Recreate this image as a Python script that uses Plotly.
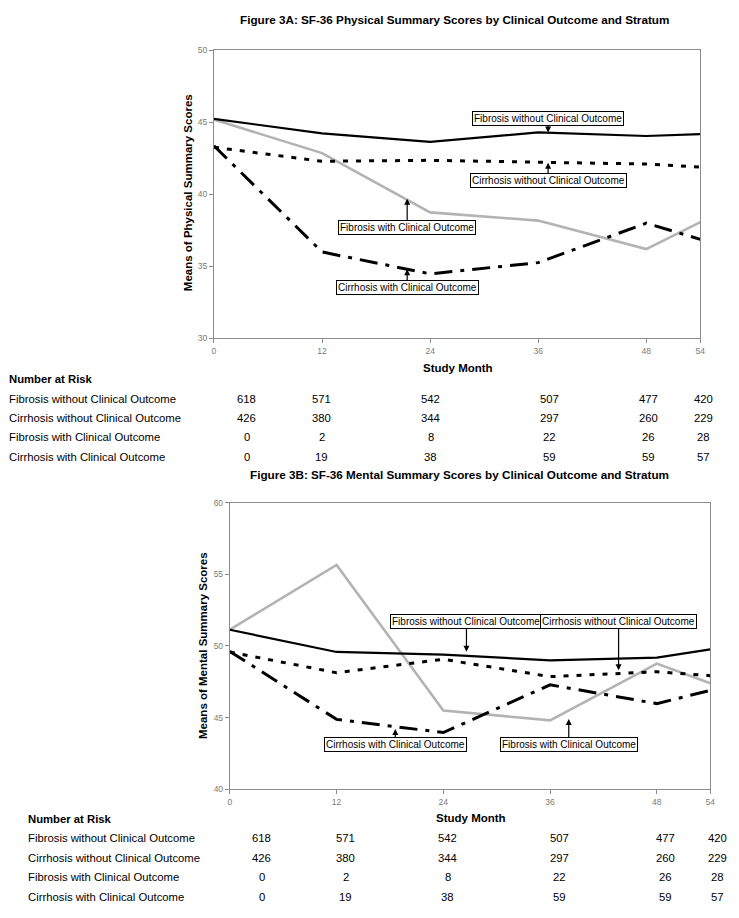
import plotly.graph_objects as go

# ---------------- data ----------------
months = [0, 12, 24, 36, 48, 54]
tick_labels = ["0", "12", "24", "36", "48", "54"]

series_names = [
    "Fibrosis without Clinical Outcome",
    "Cirrhosis without Clinical Outcome",
    "Fibrosis with Clinical Outcome",
    "Cirrhosis with Clinical Outcome",
]

phys_fib_without = [45.25, 44.24, 43.65, 44.31, 44.06, 44.19]
phys_cir_without = [43.28, 42.30, 42.37, 42.23, 42.11, 41.90]
phys_fib_with = [45.20, 42.87, 38.75, 38.18, 36.20, 38.07]
phys_cir_with = [43.37, 36.00, 34.48, 35.26, 38.00, 36.88]

ment_fib_without = [51.13, 49.58, 49.39, 49.00, 49.19, 49.76]
ment_cir_without = [49.58, 48.13, 49.07, 47.86, 48.20, 47.93]
ment_fib_with = [51.13, 55.65, 45.50, 44.81, 48.77, 47.40]
ment_cir_with = [49.62, 44.88, 43.96, 47.29, 45.98, 46.90]

n_fib_without = [618, 571, 542, 507, 477, 420]
n_cir_without = [426, 380, 344, 297, 260, 229]
n_fib_with = [0, 2, 8, 22, 26, 28]
n_cir_with = [0, 19, 38, 59, 59, 57]

title_a = "Figure 3A: SF-36 Physical Summary Scores by Clinical Outcome and Stratum"
title_b = "Figure 3B: SF-36 Mental Summary Scores by Clinical Outcome and Stratum"

# ---------------- layout helpers ----------------
W, H = 739, 918
def px(x):
    return x / W
def py(y):
    return 1 - y / H

FONT = "Liberation Sans, Arial, sans-serif"

styles = [
    dict(color="black", width=2.2, dash="solid"),
    dict(color="black", width=3, dash="5px,8px"),
    dict(color="#b3b3b3", width=2.6, dash="solid"),
    dict(color="black", width=3, dash="18px,8px,4px,8px"),
]

fig = go.Figure()
panel_a = [phys_fib_without, phys_cir_without, phys_fib_with, phys_cir_with]
panel_b = [ment_fib_without, ment_cir_without, ment_fib_with, ment_cir_with]
order = [2, 0, 1, 3]
for i in order:
    fig.add_trace(go.Scatter(x=months, y=panel_a[i], mode="lines", line=styles[i],
                             name=series_names[i], xaxis="x", yaxis="y", showlegend=False))
for i in order:
    fig.add_trace(go.Scatter(x=months, y=panel_b[i], mode="lines", line=styles[i],
                             name=series_names[i], xaxis="x2", yaxis="y2", showlegend=False))

axis_common = dict(showgrid=False, zeroline=False, showline=True, linecolor="#8c8c8c",
                   linewidth=1, mirror=True, ticks="outside", ticklen=4, tickcolor="#8c8c8c",
                   tickfont=dict(family=FONT, size=8.5, color="#7a7a7a"))

fig.update_layout(
    width=W, height=H, margin=dict(l=0, r=0, t=0, b=0),
    paper_bgcolor="white", plot_bgcolor="white",
    xaxis=dict(domain=[px(214), px(705)], range=[0, 54], tickvals=months, ticktext=tick_labels,
               anchor="y", **axis_common),
    yaxis=dict(domain=[py(337), py(46)], range=[30, 50], tickvals=[30, 35, 40, 45, 50],
               anchor="x", **axis_common),
    xaxis2=dict(domain=[px(230), px(715)], range=[0, 54], tickvals=months, ticktext=tick_labels,
                anchor="y2", **axis_common),
    yaxis2=dict(domain=[py(793), py(503)], range=[40, 60], tickvals=[40, 45, 50, 55, 60],
                anchor="x2", **axis_common),
)

ann = []
def text(x, y, s, size=10.5, bold=False, anchor="center", color="black", angle=0):
    ann.append(dict(x=px(x), y=py(y), xref="paper", yref="paper", text=f"<b>{s}</b>" if bold else s,
                    showarrow=False, xanchor=anchor, yanchor="middle", textangle=angle,
                    font=dict(family=FONT, size=size, color=color)))

# titles
text(457, 15, title_a, size=11.7, bold=True)
text(462, 475, title_b, size=11.7, bold=True)
# axis titles
text(188, 190, "Means of Physical Summary Scores", size=11.5, bold=True, angle=-90)
text(203, 648, "Means of Mental Summary Scores", size=11.5, bold=True, angle=-90)
text(460, 367, "Study Month", size=11.5, bold=True)
text(473, 822, "Study Month", size=11.5, bold=True)

# number at risk tables
tables = [n_fib_without, n_cir_without, n_fib_with, n_cir_with]
def risk_table(x_label, y_head, rows_y, cols_x):
    text(x_label, y_head, "Number at Risk", size=11.3, bold=True, anchor="left")
    for r, (name, vals) in enumerate(zip(series_names, tables)):
        text(x_label, rows_y[r], name, size=11.3, anchor="left")
        for c, v in enumerate(vals):
            text(cols_x[c], rows_y[r], str(v), size=11.3)

risk_table(5, 378, [398, 418, 437, 457], [247, 323, 433, 553, 653, 708])
risk_table(24, 823, [842, 862, 882, 902], [262, 347, 450, 563, 670, 722])

# boxed line labels with arrows (data coordinates)
def label(xa, ya, tip_x, tip_y, box_y, s):
    ann.append(dict(x=tip_x, y=tip_y, xref=xa, yref=ya, ax=tip_x, ay=box_y, axref=xa, ayref=ya,
                    text=s, showarrow=True, arrowhead=2, arrowsize=1, arrowwidth=1.2,
                    arrowcolor="black", bordercolor="black", borderwidth=1, borderpad=1,
                    bgcolor="white", font=dict(family=FONT, size=10, color="black")))

label("x", "y", 37.1, 44.30, 45.27, series_names[0])
label("x", "y", 37.1, 42.20, 40.99, series_names[1])
label("x", "y", 21.45, 39.70, 37.70, series_names[2])
label("x", "y", 21.45, 34.80, 33.50, series_names[3])

label("x2", "y2", 26.6, 49.60, 51.70, series_names[0])
label("x2", "y2", 43.7, 48.30, 51.70, series_names[1])
label("x2", "y2", 38.1, 44.90, 43.10, series_names[2])
label("x2", "y2", 18.6, 44.20, 43.10, series_names[3])

fig.update_layout(annotations=ann)
fig.write_html("out.html", config={"displayModeBar": False},
               post_script="document.body.style.margin='0';document.body.style.overflow='hidden';")
